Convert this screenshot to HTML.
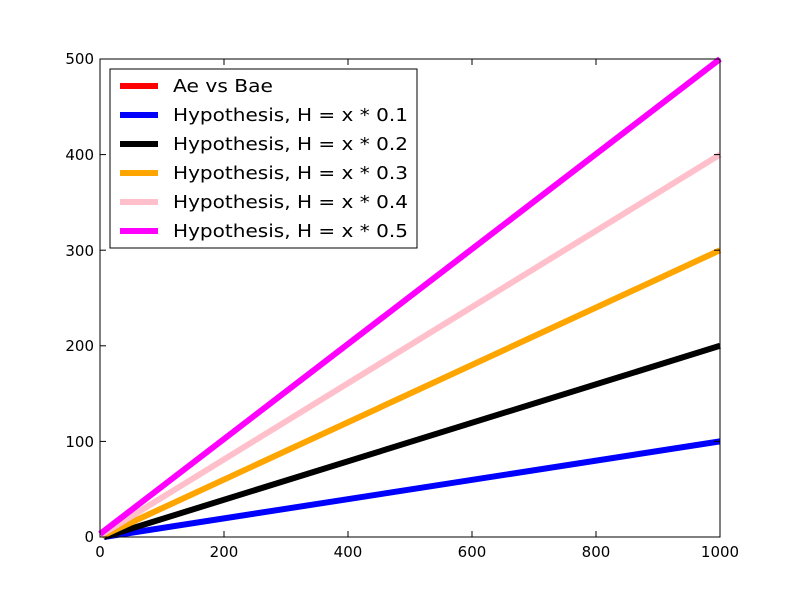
<!DOCTYPE html>
<html><head><style>body{margin:0;background:#fff}svg{display:block}</style></head><body>
<svg width="800" height="597" xmlns="http://www.w3.org/2000/svg" font-family="DejaVu Sans, sans-serif">
<rect width="800" height="597" fill="#fff"/>
<g stroke-width="6" fill="none">
<line x1="104" y1="537" x2="720" y2="441.4" stroke="#0000ff"/>
<line x1="104" y1="537" x2="720" y2="345.8" stroke="#000"/>
<line x1="102" y1="536" x2="720" y2="250.2" stroke="#ffa500"/>
<line x1="101" y1="535" x2="720" y2="154.6" stroke="#ffc0cb"/>
<line x1="100" y1="534" x2="720" y2="59" stroke="#ff00ff"/>
</g>
<rect x="100" y="59" width="620" height="478" fill="none" stroke="#000" stroke-width="1"/>
<g stroke="#000" stroke-width="1">
<line x1="224" y1="537" x2="224" y2="531"/><line x1="348" y1="537" x2="348" y2="531"/><line x1="472" y1="537" x2="472" y2="531"/><line x1="596" y1="537" x2="596" y2="531"/>
<line x1="224" y1="59" x2="224" y2="65"/><line x1="348" y1="59" x2="348" y2="65"/><line x1="472" y1="59" x2="472" y2="65"/><line x1="596" y1="59" x2="596" y2="65"/>
<line x1="100" y1="441.4" x2="106" y2="441.4"/><line x1="100" y1="345.8" x2="106" y2="345.8"/><line x1="100" y1="250.2" x2="106" y2="250.2"/><line x1="100" y1="154.6" x2="106" y2="154.6"/>
<line x1="720" y1="441.4" x2="714" y2="441.4"/><line x1="720" y1="345.8" x2="714" y2="345.8"/><line x1="720" y1="250.2" x2="714" y2="250.2"/><line x1="720" y1="154.6" x2="714" y2="154.6"/>
</g>
<g font-size="15" text-anchor="middle" fill="#000">
<text x="100" y="557">0</text><text x="224" y="557">200</text><text x="348" y="557">400</text><text x="472" y="557">600</text><text x="596" y="557">800</text><text x="720" y="557">1000</text>
</g>
<g font-size="15" text-anchor="end" fill="#000">
<text x="94" y="542">0</text><text x="94" y="447">100</text><text x="94" y="351">200</text><text x="94" y="256">300</text><text x="94" y="160">400</text><text x="94" y="64">500</text>
</g>
<rect x="110" y="69" width="307" height="179" fill="#fff" stroke="#000" stroke-width="1"/>
<g stroke-width="6">
<line x1="120" y1="86" x2="158" y2="86" stroke="#ff0000"/>
<line x1="120" y1="115" x2="158" y2="115" stroke="#0000ff"/>
<line x1="120" y1="144" x2="158" y2="144" stroke="#000"/>
<line x1="120" y1="173" x2="158" y2="173" stroke="#ffa500"/>
<line x1="120" y1="202" x2="158" y2="202" stroke="#ffc0cb"/>
<line x1="120" y1="231" x2="158" y2="231" stroke="#ff00ff"/>
</g>
<g font-size="18" fill="#000">
<text x="173" y="92" textLength="100" lengthAdjust="spacingAndGlyphs">Ae vs Bae</text>
<text x="173" y="121" textLength="235" lengthAdjust="spacingAndGlyphs">Hypothesis, H = x * 0.1</text>
<text x="173" y="150" textLength="235" lengthAdjust="spacingAndGlyphs">Hypothesis, H = x * 0.2</text>
<text x="173" y="179" textLength="235" lengthAdjust="spacingAndGlyphs">Hypothesis, H = x * 0.3</text>
<text x="173" y="208" textLength="235" lengthAdjust="spacingAndGlyphs">Hypothesis, H = x * 0.4</text>
<text x="173" y="237" textLength="235" lengthAdjust="spacingAndGlyphs">Hypothesis, H = x * 0.5</text>
</g>
</svg>
</body></html>
